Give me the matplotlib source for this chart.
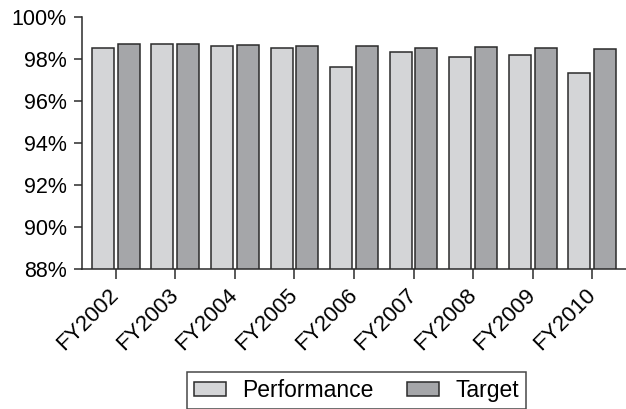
import numpy as np
import matplotlib
matplotlib.use("Agg")
import matplotlib.pyplot as plt
from matplotlib.ticker import FuncFormatter
from matplotlib.transforms import ScaledTranslation

plt.rcParams['font.family'] = ['Liberation Sans', 'DejaVu Sans']

years = ['FY2002', 'FY2003', 'FY2004', 'FY2005', 'FY2006',
         'FY2007', 'FY2008', 'FY2009', 'FY2010']
performance = [98.52, 98.70, 98.62, 98.51, 97.59, 98.33, 98.10, 98.19, 97.33]
target = [98.71, 98.68, 98.65, 98.62, 98.59, 98.52, 98.54, 98.51, 98.46]

fig = plt.figure(figsize=(6.26, 4.09), dpi=100)
ax = fig.add_axes([82/626, 1 - 268.7/409, 1 - 82/626, (268.7 - 16.7)/409])

x = np.arange(len(years))
w = 0.37
off = 0.216
edge = '#2b2b2b'
ax.bar(x - off, performance, w, color='#d4d5d7', edgecolor=edge, linewidth=1.1,
       label='Performance')
ax.bar(x + off, target, w, color='#a5a6a9', edgecolor=edge, linewidth=1.1,
       label='Target')

ax.set_ylim(88, 100)
ax.set_xlim(-0.565, 8.565)
ax.set_yticks(np.arange(88, 101, 2))
ax.yaxis.set_major_formatter(FuncFormatter(lambda v, p: '%d%%' % v))
ax.set_xticks(x)
ax.set_xticklabels(years, rotation=45, ha='right', va='center',
                   rotation_mode='anchor')
# nudge rotated labels a little left, like the original
shift = ScaledTranslation(-0.05, 0, fig.dpi_scale_trans)
for lbl in ax.get_xticklabels():
    lbl.set_transform(lbl.get_transform() + shift)

for s in ['top', 'right']:
    ax.spines[s].set_visible(False)
for s in ['left', 'bottom']:
    ax.spines[s].set_color(edge)
    ax.spines[s].set_linewidth(1.1)
ax.tick_params(axis='y', length=6, width=1.1, color=edge, pad=5, labelsize=15.5)
ax.tick_params(axis='x', length=7, width=1.1, color=edge, pad=10, labelsize=16)

leg = fig.legend(loc='upper center', bbox_to_anchor=(356.5/626, 1 - 372/409),
                 ncol=2, fontsize=16.5, frameon=True, fancybox=False,
                 handlelength=1.4, handleheight=0.6, handletextpad=0.7,
                 columnspacing=1.45, borderpad=0.3, borderaxespad=0)
leg.get_frame().set_edgecolor('#1a1a1a')
leg.get_frame().set_linewidth(1.1)
for h in leg.legend_handles:
    h.set_edgecolor(edge)

fig.savefig('out.png', dpi=100)
